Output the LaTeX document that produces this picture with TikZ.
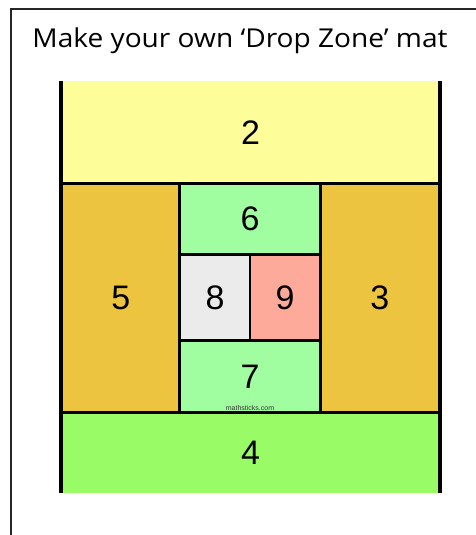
\documentclass[tikz,border=0pt]{standalone}
\usepackage{fontspec}
\setmainfont{Liberation Sans}
\newfontfamily\titlefont{Open Sans}
\definecolor{zoneyellow}{RGB}{253,253,153}
\definecolor{zonegold}{RGB}{236,196,64}
\definecolor{zonemint}{RGB}{160,253,160}
\definecolor{zonegrey}{RGB}{235,235,235}
\definecolor{zonesalmon}{RGB}{253,170,155}
\definecolor{zonelime}{RGB}{153,252,102}
\begin{document}
\begin{tikzpicture}[x=1pt, y=-1pt,
		zone/.style={draw=none, inner sep=0pt, font=\fontsize{34}{40}\selectfont},
		edge/.style={line width=3pt, black}]
		\useasboundingbox (0,0) rectangle (476,535);
		
		% Frame and title
		\draw[line width=1.5pt, black!85] (11,545) -- (11,9) -- (485,9);
		\node[anchor=base, font=\titlefont\fontsize{26}{30}\selectfont] (title) at (240,48) {\scalebox{1.08}[1]{Make your own ‘Drop Zone’ mat}};
		
		% Zones
		\node[zone, fill=zoneyellow, minimum width=378pt, minimum height=102.5pt] (z2) at (250.5,132.25) {2};
		\node[zone, fill=zonegold, minimum width=118.5pt, minimum height=229pt] (z5) at (120.75,298) {5};
		\node[zone, fill=zonegold, minimum width=119.5pt, minimum height=229pt] (z3) at (379.75,298) {3};
		\node[zone, fill=zonemint, minimum width=140pt, minimum height=70.5pt] (z6) at (250,218.75) {6};
		\node[zone, fill=zonegrey, minimum width=70pt, minimum height=87pt] (z8) at (215,297.5) {8};
		\node[zone, fill=zonesalmon, minimum width=70pt, minimum height=87pt] (z9) at (285,297.5) {9};
		\node[zone, fill=zonemint, minimum width=140pt, minimum height=71.5pt] (z7) at (250,376.75) {7};
		\node[zone, fill=zonelime, minimum width=378pt, minimum height=80.5pt] (z4) at (250.5,452.75) {4};
		\node[font=\fontsize{7}{8}\selectfont, text=black!80] (mark) at (250,408) {mathsticks.com};
		
		% Borders
		\draw[edge] (z2.south west) -- (z2.south east);
		\draw[edge] (z4.north west) -- (z4.north east);
		\draw[edge] (z6.north west) -- (z7.south west);
		\draw[edge] (z6.north east) -- (z7.south east);
		\draw[edge] (z6.south west) -- (z6.south east);
		\draw[edge] (z7.north west) -- (z7.north east);
		\draw[line width=2pt] (z8.north east) -- (z8.south east);
		\draw[line width=4pt] (z2.north west) -- (z4.south west);
		\draw[line width=4pt] (z2.north east) -- (z4.south east);
\end{tikzpicture}
\end{document}
